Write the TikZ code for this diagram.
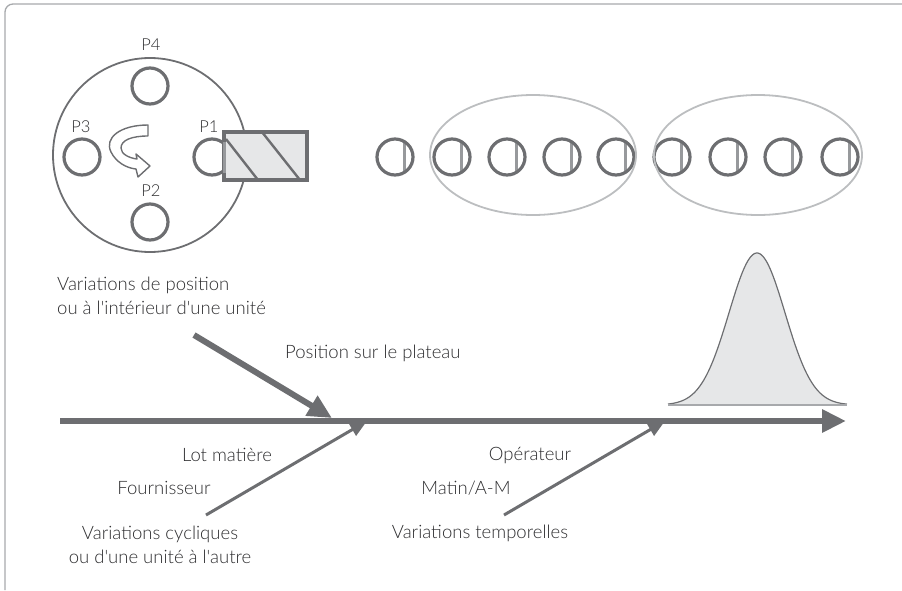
\documentclass[tikz,border=0pt]{standalone}
\usepackage{fontspec}
\setmainfont{Lato Light}[Ligatures=TeXOff]
\usetikzlibrary{arrows.meta}
\definecolor{dg}{HTML}{6D6E71}
\definecolor{lg}{HTML}{E6E7E8}
\definecolor{eg}{HTML}{BCBEC0}
\definecolor{bg}{HTML}{97999C}
\definecolor{fg}{HTML}{A7A9AC}
\definecolor{tx}{HTML}{2E2E30}
\begin{document}
\begin{tikzpicture}[x=1pt,y=-1pt,
  lbl/.style={text=tx,font=\fontsize{18.5}{24.5}\selectfont,inner sep=0pt},
  plbl/.style={text=tx,font=\fontsize{16.5}{18}\selectfont,inner sep=0pt},
  unitring/.style={draw=dg,line width=3.2pt},
  bigarrow/.style={draw=dg,line width=6pt,-{Triangle[length=24pt,width=22pt]}},
  thinarrow/.style={draw=dg,line width=3pt,-{Triangle[length=17pt,width=14pt]}}]
\useasboundingbox (0,0) rectangle (902,590);
% frame
\draw[fg,line width=1.3pt,rounded corners=8pt] (5,590) -- (5,4) -- (902,4);
% plate
\draw[dg,line width=1.8pt] (150,155) circle[radius=97pt];
\draw[unitring] (150,86) circle[radius=18pt];
\draw[unitring] (82,157) circle[radius=18pt];
\draw[unitring] (150,222) circle[radius=18pt];
\draw[unitring] (212,157) circle[radius=18pt];
\node[plbl] (p4) at (151,45) {P4};
\node[plbl] (p3) at (81,127) {P3};
\node[plbl] (p1) at (209,127) {P1};
\node[plbl] (p2) at (151,191) {P2};
% rectangle
\draw[dg,line width=3.2pt,fill=lg] (224,132) rectangle (307,180);
\draw[dg,line width=2.4pt] (226,139) -- (258,180);
\draw[dg,line width=2.4pt] (262,132) -- (300,180);
\draw[bg,line width=3pt] (224,142) -- (224,173);
% rotation arrow
\draw[dg,line width=1.4pt,fill=white,line join=round]
  (148,125) .. controls (120,125) and (104,138) .. (111,152)
  .. controls (116,162) and (126,168) .. (136,169)
  -- (138,177) -- (150,166) -- (136,154) -- (137,159)
  .. controls (129,158) and (121,154) .. (121,148)
  .. controls (121,140) and (132,136) .. (148,136) -- cycle;
% row of units
\foreach \cx in {395,452,507,562,616,672,728,783,840}{
  \draw[bg,line width=3pt] (\cx+9,142) -- (\cx+9,172);
  \draw[unitring] (\cx,157) circle[radius=18pt];
}
\draw[eg,line width=1.8pt] (533,155) ellipse[x radius=103pt,y radius=60pt];
\draw[eg,line width=1.8pt] (758,155) ellipse[x radius=104pt,y radius=60pt];
% bell curve
\fill[lg] plot[domain=668:847,samples=120] (\x,{405-152*exp(-((\x-757)^2)/1568)}) -- cycle;
\draw[dg,line width=1.2pt] plot[domain=668:847,samples=120] (\x,{405-152*exp(-((\x-757)^2)/1568)});
\draw[fg,line width=1.5pt] (668,405) -- (847,405);
% axis
\coordinate (a0) at (60,421);
\coordinate (a1) at (846,421);
\draw[bigarrow] (a0) -- (a1);
% labels
\node[lbl,anchor=west,align=left] (vp) at (57,296) {Variations de position\\ou à l'intérieur d'une unité};
\node[lbl,anchor=west] (ps) at (285,353) {Position sur le plateau};
\node[lbl] (lm) at (227,455) {Lot matière};
\node[lbl] (fo) at (164,488) {Fournisseur};
\node[lbl,align=center] (vc) at (160,545) {Variations cycliques\\ou d'une unité à l'autre};
\node[lbl] (op) at (530,455) {Opérateur};
\node[lbl] (ma) at (466,488) {Matin/A-M};
\node[lbl] (vt) at (480,533) {Variations temporelles};
% arrows
\coordinate (s1) at (194,335);
\coordinate (t1) at (332,418);
\coordinate (s2) at (206,515);
\coordinate (t2) at (367,421);
\coordinate (s3) at (504,515);
\coordinate (t3) at (665,421);
\draw[bigarrow] (s1) -- (t1);
\draw[thinarrow] (s2) -- (t2);
\draw[thinarrow] (s3) -- (t3);
\end{tikzpicture}
\end{document}
